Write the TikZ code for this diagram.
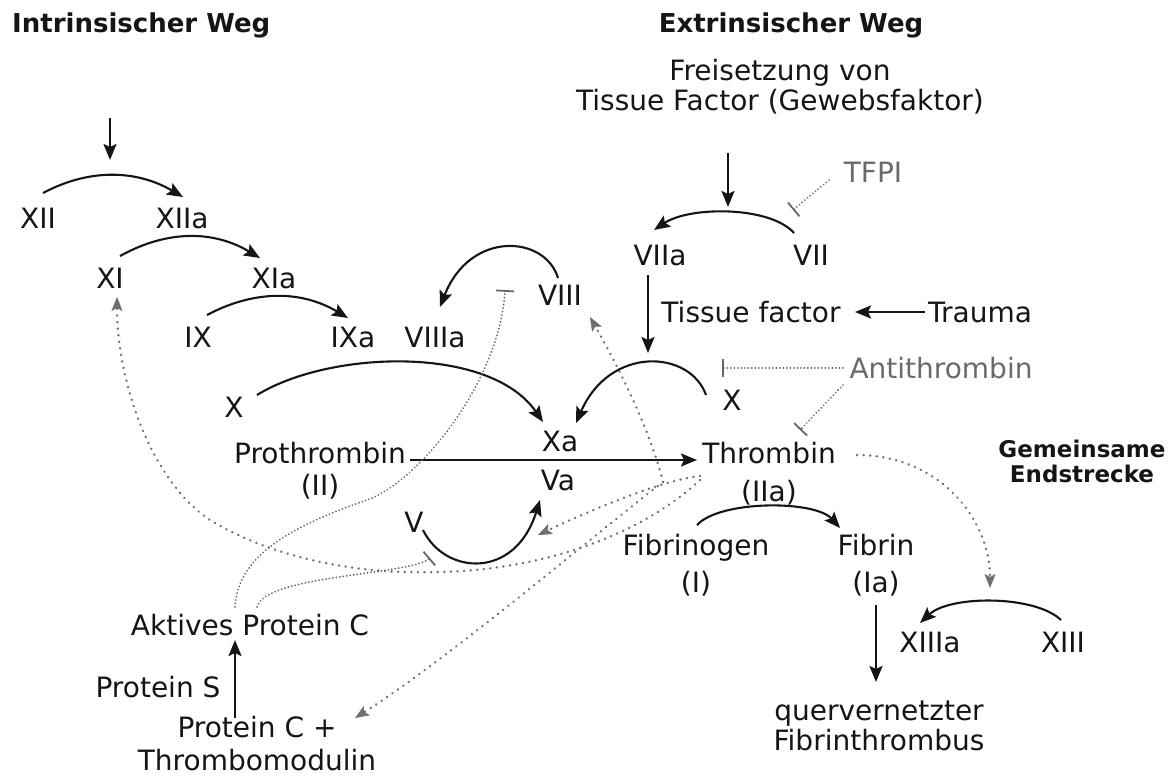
\documentclass[tikz,border=0pt]{standalone}
\usepackage{fontspec}
\setmainfont{DejaVu Sans}
\usetikzlibrary{arrows.meta}
\definecolor{ink}{HTML}{151515}
\definecolor{gtext}{HTML}{6A6A6A}
\definecolor{gline}{HTML}{6F6F6F}
\definecolor{gline2}{HTML}{666666}
\tikzset{
  lab/.style={inner sep=0pt, anchor=base, text=ink, font=\fontsize{28}{32}\selectfont},
  glab/.style={lab, text=gtext},
  ttl/.style={inner sep=0pt, anchor=base, text=ink, font=\fontsize{26}{30}\selectfont\bfseries},
  arr/.style={draw=ink, line width=2.1pt, -{Stealth[length=16pt,width=13pt,inset=3pt]}},
  act/.style={draw=gline, line width=2.6pt, line cap=round, dash pattern=on 0.1pt off 6.5pt,
              -{Stealth[length=14pt,width=11pt,inset=3pt,fill=gline,line width=0.6pt,line cap=butt]}},
  inh/.style={draw=gline2, line width=1.9pt, line cap=round, dash pattern=on 0.1pt off 3.4pt,
              -{Bar[width=18pt,line width=1.8pt,line cap=butt]}},
}
\begin{document}
\begin{tikzpicture}[x=1pt,y=-1pt]
\useasboundingbox (0,0) rectangle (1172,776);
% titles
\node[ttl, anchor=base west] (tI) at (12,33) {Intrinsischer Weg};
\node[ttl] (tE) at (791,33) {Extrinsischer Weg};
\node[ttl, align=center, font=\fontsize{23}{25}\selectfont\bfseries] (tG) at (1082,482) {Gemeinsame\\Endstrecke};
% texts
\node[lab, align=center, font=\fontsize{28}{29}\selectfont] (free) at (780,110) {Freisetzung von\\Tissue Factor (Gewebsfaktor)};
\node[lab] (XII) at (38,228) {XII};
\node[lab] (XIIa) at (182,228) {XIIa};
\node[lab] (XI) at (110,288) {XI};
\node[lab] (XIa) at (274,288) {XIa};
\node[lab] (IX) at (198,347) {IX};
\node[lab] (IXa) at (353,347) {IXa};
\node[lab] (VIIIa) at (435,347) {VIIIa};
\node[lab] (VIII) at (560,305) {VIII};
\node[lab] (Xl) at (234,417) {X};
\node[lab, align=center, font=\fontsize{28}{32}\selectfont] (proth) at (320,495) {Prothrombin\\(II)};
\node[lab] (Xa) at (560,451) {Xa};
\node[lab] (Va) at (558,490) {Va};
\node[lab] (V) at (414,532) {V};
\node[lab] (VIIa) at (660,265) {VIIa};
\node[lab] (VII) at (811,265) {VII};
\node[glab] (TFPI) at (873,182) {TFPI};
\node[lab] (tfac) at (751,322) {Tissue factor};
\node[lab] (trauma) at (980,322) {Trauma};
\node[glab] (anti) at (941,378) {Antithrombin};
\node[lab] (Xr) at (732,410) {X};
\node[lab, align=center, font=\fontsize{28}{38}\selectfont] (thr) at (769,501) {Thrombin\\(IIa)};
\node[lab, align=center, font=\fontsize{28}{37}\selectfont] (fibg) at (696,592) {Fibrinogen\\(I)};
\node[lab, align=center, font=\fontsize{28}{37}\selectfont] (fib) at (876,592) {Fibrin\\(Ia)};
\node[lab] (XIIIa) at (930,652) {XIIIa};
\node[lab] (XIII) at (1063,652) {XIII};
\node[lab, align=center, font=\fontsize{28}{30}\selectfont] (quer) at (879,750) {quervernetzter\\Fibrinthrombus};
\node[lab] (apc) at (250,635) {Aktives Protein C};
\node[lab] (ps) at (158,697) {Protein S};
\node[lab, align=center, font=\fontsize{28}{33}\selectfont] (pc) at (257,770) {Protein C +\\Thrombomodulin};
% free coordinates
\coordinate (iin) at (110,118);
\coordinate (iout) at (110,160);
\coordinate (ein) at (728,153);
\coordinate (eout) at (728,207);
\coordinate (vdown) at (648,353);
% black arrows
\draw[arr] (iin) -- (iout);
\draw[arr] (ein) -- (eout);
\draw[arr] ([shift={(5,-35)}]XII.base) .. controls +(47,-25) and +(-46,-27) .. ([shift={(1,-31)}]XIIa.base);
\draw[arr] ([shift={(10,-32)}]XI.base) .. controls +(47,-26) and +(-47,-28) .. ([shift={(-14,-30)}]XIa.base);
\draw[arr] ([shift={(9,-32)}]IX.base) .. controls +(47,-25) and +(-47,-28) .. ([shift={(-5,-29)}]IXa.base);
\draw[arr] ([shift={(23,-22)}]Xl.base) .. controls +(73,-45) and +(-53,-77) .. ([shift={(-17,-29)}]Xa.base);
\draw[arr] ([shift={(-2,-27)}]VIII.base) .. controls +(-13,-43) and +(30,-77) .. ([shift={(5,-40)}]VIIIa.base);
\draw[arr] ([shift={(-26,-15)}]Xr.base) .. controls +(-16,-45) and +(34,-78) .. ([shift={(16,-28)}]Xa.base);
\draw[arr] ([shift={(-17,-32)}]VII.base) .. controls +(-24,-27) and +(36,-24) .. ([shift={(-6,-35)}]VIIa.base);
\draw[arr] ([shift={(-12,10)}]VIIa.base) -- (vdown);
\draw[arr] ([shift={(-55,-10)}]trauma.base) -- ([shift={(104,-10)}]tfac.base);
\draw[arr] ([shift={(90,-35)}]proth.base) -- ([shift={(-72,-41)}]thr.base);
\draw[arr] ([shift={(1,-67)}]fibg.base) .. controls +(23,-25) and +(-25,-28) .. ([shift={(-36,-64)}]fib.base);
\draw[arr] ([shift={(0,13)}]fib.base) -- ([shift={(-3,-68)}]quer.base);
\draw[arr] ([shift={(-2,-32)}]XIII.base) .. controls +(-26,-25) and +(30,-28) .. ([shift={(-10,-29)}]XIIIa.base);
\draw[arr] ([shift={(9,-2)}]V.base) .. controls +(22,45) and +(-25,80) .. ([shift={(-18,10)}]Va.base);
\draw[arr] ([shift={(-22,-52)}]pc.base) -- ([shift={(-15,5)}]apc.base);
% activation (dotted, grey)
\draw[act] ([shift={(-106,-19)}]thr.base) .. controls +(-13,-52) and +(30,53) .. ([shift={(30,12)}]VIII.base);
\draw[act] ([shift={(-106,-19)}]thr.base) .. controls +(-63,48) and +(95,-60) .. ([shift={(98,-52)}]pc.base);
\draw[act] ([shift={(-69,-25)}]thr.base) .. controls +(-40,4) and +(42,-20) .. ([shift={(-20,45)}]Va.base);
\draw[act] ([shift={(-69,-21)}]thr.base) .. controls (630,545) and (520,572) .. (433,572)
   .. controls (330,575) and (250,545) .. (210,520)
   .. controls (150,480) and (117,380) .. ([shift={(7,9)}]XI.base);
\draw[act] ([shift={(88,-46)}]thr.base) .. controls (940,455) and (990,520) .. ([shift={(-73,-64)}]XIII.base);
% inhibition (dotted, bar)
\draw[inh] ([shift={(-44,-2)}]TFPI.base) -- ([shift={(-18,-55)}]VII.base);
\draw[inh] ([shift={(-98,-10)}]anti.base) -- ([shift={(-10,-42)}]Xr.base);
\draw[inh] ([shift={(-98,7)}]anti.base) -- ([shift={(31,-71)}]thr.base);
\draw[inh] ([shift={(-15,-28)}]apc.base) .. controls +(3,-47) and +(-87,30) .. (367,500)
   .. controls (420,481) and (500,380) .. ([shift={(-55,-15)}]VIII.base);
\draw[inh] ([shift={(7,-28)}]apc.base) .. controls +(8,-32) and +(-20,17) .. ([shift={(16,26)}]V.base);
\end{tikzpicture}
\end{document}
